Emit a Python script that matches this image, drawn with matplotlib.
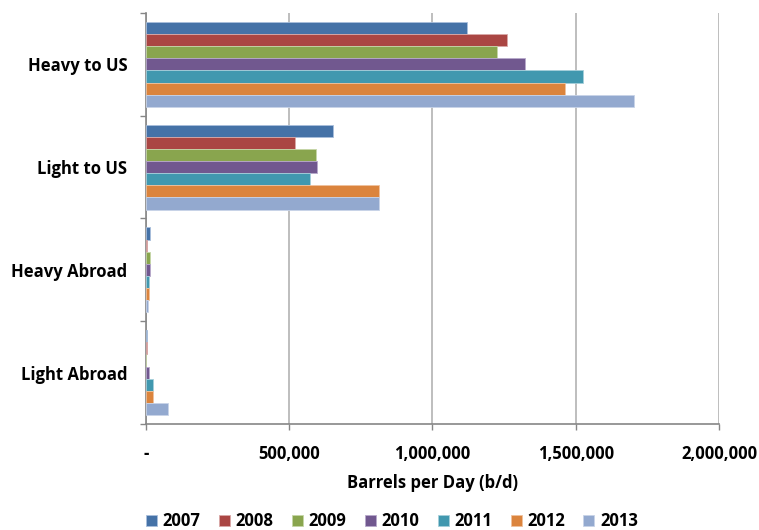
import matplotlib
matplotlib.use("Agg")
import matplotlib.pyplot as plt
from matplotlib.ticker import FixedLocator, FuncFormatter
import numpy as np

plt.rcParams['font.family'] = ['Open Sans', 'DejaVu Sans']
plt.rcParams['font.weight'] = 'bold'

categories = ["Heavy to US", "Light to US", "Heavy Abroad", "Light Abroad"]
years = ["2007", "2008", "2009", "2010", "2011", "2012", "2013"]
colors = ["#4572A7", "#AA4643", "#89A54E", "#71588F", "#4198AF", "#DB843D", "#93A9CF"]
edges = ["#A9BFDC", "#D9A9A8", "#C6D6A8", "#B7A9CB", "#A6CFDA", "#F0C29D", "#C8D4E8"]

# barrels per day, one list per year, in category order
values = {
    "2007": [1120000, 652000, 15000, 3500],
    "2008": [1261000, 521000, 3500, 3500],
    "2009": [1224000, 594000, 13000, 0],
    "2010": [1323000, 596000, 15000, 9000],
    "2011": [1524000, 574000, 10500, 23000],
    "2012": [1462000, 815000, 10500, 23000],
    "2013": [1702000, 813000, 6000, 76000],
}

fig = plt.figure(figsize=(7.59, 5.30), dpi=100)
ax = fig.add_axes([146 / 759, 106 / 530, (719 - 146) / 759, (424 - 13) / 530])

n = len(years)
group = 0.825
h = group / n
ypos = np.arange(len(categories))
for j, yr in enumerate(years):
    offs = -group / 2 + h * (j + 0.5)
    ax.barh(ypos + offs, values[yr], height=h, color=colors[j],
            edgecolor=edges[j], linewidth=0.6, label=yr, zorder=3)

ax.set_xlim(0, 2000000)
ax.set_ylim(len(categories) - 0.5, -0.5)

ax.xaxis.set_major_locator(FixedLocator([0, 500000, 1000000, 1500000, 2000000]))
ax.xaxis.set_major_formatter(FuncFormatter(lambda v, p: "-" if v == 0 else f"{int(v):,}"))
ax.grid(axis='x', color='#B3B3B3', linewidth=1.2, zorder=0)

ax.yaxis.set_major_locator(FixedLocator(np.arange(-0.5, len(categories))))
ax.yaxis.set_major_formatter(FuncFormatter(lambda v, p: ""))
ax.yaxis.set_minor_locator(FixedLocator(ypos))
ax.set_yticklabels(categories, minor=True)
ax.tick_params(axis='y', which='minor', length=0, pad=13.5, labelsize=12)
ax.tick_params(axis='y', which='major', length=4.3, color='#868686', width=1)
ax.tick_params(axis='x', length=4.3, color='#868686', width=1, labelsize=12, pad=10.5)

for s in ['top', 'right']:
    ax.spines[s].set_visible(False)
for s in ['left', 'bottom']:
    ax.spines[s].set_color('#868686')
    ax.spines[s].set_linewidth(1.2)

ax.set_xlabel("Barrels per Day (b/d)", fontsize=12, fontweight='bold', labelpad=8.3)

fig.legend(loc='center', bbox_to_anchor=(392 / 759, (530 - 521.5) / 530), ncol=7,
           frameon=False, fontsize=12, handlelength=0.66, handleheight=0.66,
           handletextpad=0.34, columnspacing=1.1, borderpad=0, borderaxespad=0)

fig.savefig("out.png", dpi=100)
